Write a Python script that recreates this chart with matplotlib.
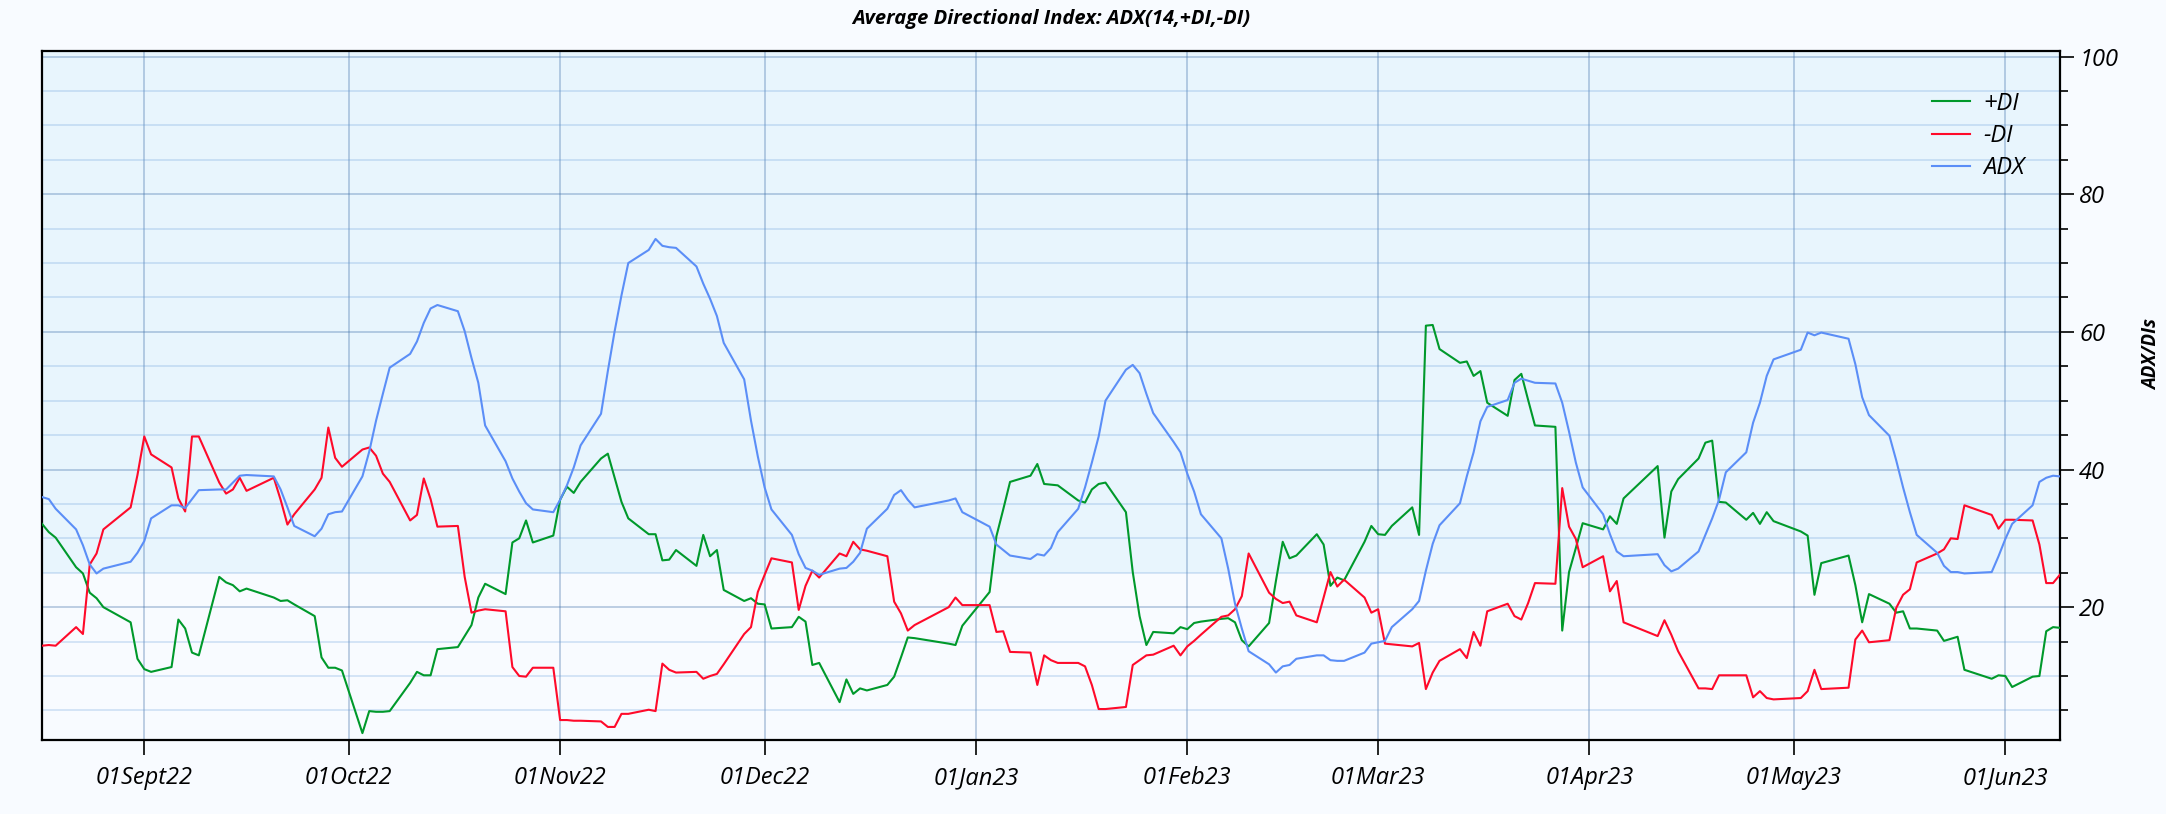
#!/usr/bin/env python3
"""
ADX(14,+DI,-DI) chart, Aug 2022 - Jun 2023 (LSE trading days).
"""

import pandas as pd
import matplotlib
matplotlib.use("Agg")
import matplotlib.pyplot as plt
from matplotlib.ticker import MultipleLocator

# --------------------------------------------------------------------------- #
# Data
# --------------------------------------------------------------------------- #
TRADING_DAYS = {
    "2022-08": [17, 18, 19, 22, 23, 24, 25, 26, 30, 31],
    "2022-09": [1, 2, 5, 6, 7, 8, 9, 12, 13, 14, 15, 16, 20, 21, 22, 23, 26, 27, 28, 29, 30],
    "2022-10": [3, 4, 5, 6, 7, 10, 11, 12, 13, 14, 17, 18, 19, 20, 21, 24, 25, 26, 27, 28, 31],
    "2022-11": [1, 2, 3, 4, 7, 8, 9, 10, 11, 14, 15, 16, 17, 18, 21, 22, 23, 24, 25, 28, 29, 30],
    "2022-12": [1, 2, 5, 6, 7, 8, 9, 12, 13, 14, 15, 16, 19, 20, 21, 22, 23, 28, 29, 30],
    "2023-01": [3, 4, 5, 6, 9, 10, 11, 12, 13, 16, 17, 18, 19, 20, 23, 24, 25, 26, 27, 30, 31],
    "2023-02": [1, 2, 3, 6, 7, 8, 9, 10, 13, 14, 15, 16, 17, 20, 21, 22, 23, 24, 27, 28],
    "2023-03": [1, 2, 3, 6, 7, 8, 9, 10, 13, 14, 15, 16, 17, 20, 21, 22, 23, 24, 27, 28, 29, 30, 31],
    "2023-04": [3, 4, 5, 6, 11, 12, 13, 14, 17, 18, 19, 20, 21, 24, 25, 26, 27, 28],
    "2023-05": [2, 3, 4, 5, 9, 10, 11, 12, 15, 16, 17, 18, 19, 22, 23, 24, 25, 26, 30, 31],
    "2023-06": [1, 2, 5, 6, 7, 8, 9],
}

PLUS_DI = [
    32.1, 30.9, 30.1, 25.8, 24.9, 22.1, 21.3, 20.0, 17.8, 12.5,
    11.0, 10.6, 11.3, 18.2, 16.9, 13.4, 13.0, 24.4, 23.6, 23.2, 22.3, 22.7, 21.4, 20.9, 21.0, 20.4, 18.7, 12.7, 11.2, 11.2, 10.8,
    1.7, 4.9, 4.8, 4.8, 4.9, 9.0, 10.6, 10.1, 10.1, 13.9, 14.2, 15.8, 17.4, 21.4, 23.4, 21.9, 29.4, 30.0, 32.6, 29.4, 30.4,
    35.6, 37.5, 36.6, 38.2, 41.6, 42.3, 38.8, 35.3, 32.9, 30.6, 30.6, 26.8, 26.9, 28.3, 26.0, 30.5, 27.4, 28.3, 22.5, 20.9, 21.3, 20.5,
    20.4, 16.9, 17.1, 18.6, 17.9, 11.6, 11.9, 6.2, 9.5, 7.4, 8.2, 7.9, 8.7, 9.9, 12.7, 15.6, 15.5, 14.7, 14.5, 17.3,
    22.2, 30.3, 34.2, 38.2, 39.1, 40.8, 37.9, 37.8, 37.7, 35.5, 35.2, 37.1, 37.9, 38.1, 33.8, 25.1, 18.7, 14.5, 16.4, 16.2, 17.1,
    16.8, 17.7, 17.9, 18.3, 18.4, 17.8, 15.2, 14.3, 17.7, 23.8, 29.5, 27.1, 27.5, 30.6, 29.1, 23.1, 24.3, 23.9, 29.5, 31.8,
    30.6, 30.5, 31.8, 34.5, 30.5, 60.9, 61.0, 57.5, 55.5, 55.7, 53.6, 54.3, 49.7, 47.8, 53.0, 53.9, 50.1, 46.4, 46.2, 16.6, 25.1, 28.6, 32.2,
    31.3, 33.2, 32.1, 35.8, 40.5, 30.1, 36.8, 38.6, 41.6, 43.9, 44.2, 35.3, 35.2, 32.7, 33.7, 32.1, 33.8, 32.5,
    31.0, 30.4, 21.8, 26.4, 27.5, 23.2, 17.8, 21.9, 20.5, 19.2, 19.4, 16.9, 16.9, 16.6, 15.1, 15.4, 15.7, 10.9, 9.6, 10.1,
    10.0, 8.4, 9.9, 10.0, 16.5, 17.1, 17.0,
]

MINUS_DI = [
    14.4, 14.5, 14.4, 17.1, 16.1, 26.2, 27.8, 31.3, 34.5, 39.2,
    44.8, 42.2, 40.3, 35.8, 33.9, 44.8, 44.8, 38.1, 36.5, 37.1, 38.8, 36.9, 38.8, 35.6, 32.0, 33.5, 37.1, 38.8, 46.1, 41.7, 40.4,
    42.9, 43.2, 42.0, 39.4, 38.2, 32.6, 33.4, 38.7, 35.7, 31.7, 31.8, 24.4, 19.2, 19.5, 19.7, 19.4, 11.3, 10.0, 9.9, 11.2, 11.2,
    3.6, 3.6, 3.5, 3.5, 3.4, 2.6, 2.6, 4.5, 4.5, 5.1, 4.9, 11.8, 10.9, 10.5, 10.6, 9.6, 10.0, 10.3, 11.7, 16.1, 17.1, 22.2,
    24.7, 27.1, 26.5, 19.6, 23.1, 25.3, 24.3, 27.8, 27.4, 29.5, 28.4, 28.2, 27.4, 20.8, 19.1, 16.6, 17.4, 20.0, 21.4, 20.3,
    20.3, 16.4, 16.5, 13.5, 13.4, 8.7, 13.0, 12.3, 11.9, 11.9, 11.4, 8.7, 5.2, 5.2, 5.5, 11.6, 12.3, 13.0, 13.1, 14.4, 13.0,
    14.3, 15.1, 16.0, 18.6, 18.8, 19.7, 21.6, 27.8, 22.1, 21.2, 20.6, 20.8, 18.8, 17.8, 21.4, 25.1, 23.0, 24.0, 21.4, 19.2,
    19.7, 14.7, 14.6, 14.3, 14.8, 8.1, 10.5, 12.2, 13.9, 12.6, 16.4, 14.4, 19.4, 20.5, 18.7, 18.2, 20.6, 23.5, 23.4, 37.3, 31.7, 29.9, 25.8,
    27.4, 22.3, 23.8, 17.8, 15.8, 18.1, 16.0, 13.6, 8.2, 8.2, 8.1, 10.1, 10.1, 10.1, 6.9, 7.8, 6.8, 6.6,
    6.8, 7.8, 10.9, 8.1, 8.3, 15.3, 16.6, 14.9, 15.2, 19.9, 21.8, 22.6, 26.5, 27.8, 28.4, 30.0, 29.9, 34.8, 33.4, 31.4,
    32.7, 32.7, 32.6, 29.1, 23.5, 23.5, 24.7,
]

ADX = [
    36.0, 35.7, 34.3, 31.3, 29.0, 26.2, 24.9, 25.6, 26.6, 27.9,
    29.6, 32.9, 34.8, 34.8, 34.4, 35.7, 37.0, 37.1, 37.1, 38.1, 39.1, 39.2, 39.0, 37.1, 34.5, 31.8, 30.3, 31.4, 33.5, 33.8, 33.9,
    39.0, 42.6, 47.1, 51.0, 54.8, 56.8, 58.6, 61.3, 63.4, 63.9, 63.0, 60.1, 56.2, 52.6, 46.4, 41.2, 38.7, 36.8, 35.1, 34.2, 33.8,
    35.6, 37.7, 40.3, 43.5, 48.1, 54.3, 60.1, 65.3, 70.0, 71.9, 73.5, 72.5, 72.3, 72.2, 69.5, 67.0, 64.8, 62.3, 58.4, 53.1, 47.1, 41.9,
    37.4, 34.2, 30.5, 27.7, 25.7, 25.3, 24.7, 25.6, 25.7, 26.6, 27.9, 31.4, 34.3, 36.3, 37.0, 35.6, 34.5, 35.5, 35.8, 33.8,
    31.7, 29.1, 28.3, 27.5, 27.0, 27.7, 27.5, 28.6, 30.9, 34.3, 37.4, 41.0, 44.8, 50.0, 54.5, 55.2, 54.0, 51.0, 48.2, 44.0, 42.5,
    39.4, 36.8, 33.5, 30.0, 25.6, 20.5, 16.9, 13.6, 11.7, 10.5, 11.4, 11.6, 12.5, 13.0, 13.0, 12.3, 12.2, 12.2, 13.4, 14.7,
    14.9, 15.1, 17.1, 19.7, 20.9, 25.3, 29.2, 31.9, 35.1, 39.0, 42.5, 47.0, 49.1, 50.1, 52.6, 53.2, 52.9, 52.6, 52.5, 49.7, 45.5, 41.0, 37.4,
    33.5, 30.6, 28.1, 27.4, 27.7, 26.1, 25.2, 25.6, 28.1, 30.5, 32.9, 35.6, 39.6, 42.5, 46.8, 49.7, 53.6, 56.0,
    57.4, 59.9, 59.5, 59.9, 59.0, 55.3, 50.5, 47.9, 44.9, 41.3, 37.4, 33.8, 30.5, 27.9, 26.0, 25.1, 25.1, 24.9, 25.1, 27.4,
    29.9, 32.1, 34.8, 38.2, 38.8, 39.1, 39.0,
]

MONTH_TICKS = ["2022-09-01", "2022-10-01", "2022-11-01", "2022-12-01", "2023-01-01",
               "2023-02-01", "2023-03-01", "2023-04-01", "2023-05-01", "2023-06-01"]
MONTH_LABELS = ["01Sept22", "01Oct22", "01Nov22", "01Dec22", "01Jan23",
                "01Feb23", "01Mar23", "01Apr23", "01May23", "01Jun23"]

TREND_LEVEL = 25          # shaded zone above this value

# --------------------------------------------------------------------------- #
# Style
# --------------------------------------------------------------------------- #
plt.rcParams["font.family"] = ["Open Sans", "DejaVu Sans"]
BG       = "#f8fbff"
ZONE_BG  = "#e8f5fd"
C_PLUS   = "#00992b"
C_MINUS  = "#ff0a2a"
C_ADX    = "#5b8ef7"
AX_RECT  = [0.0194, 0.0909, 0.9316, 0.8464]

dates = pd.to_datetime([f"{m}-{d:02d}" for m, days in TRADING_DAYS.items() for d in days])

fig = plt.figure(figsize=(21.66, 8.14), dpi=100, facecolor=BG)
ax = fig.add_axes(AX_RECT)
ax.set_facecolor(BG)

ymin, ymax = 0.7, 100.8
ax.axhspan(TREND_LEVEL, ymax, color=ZONE_BG, zorder=0, lw=0)

ax.plot(dates, PLUS_DI, color=C_PLUS, lw=1.5, label="+DI", zorder=3)
ax.plot(dates, MINUS_DI, color=C_MINUS, lw=1.5, label="-DI", zorder=3)
ax.plot(dates, ADX, color=C_ADX, lw=1.5, label="ADX", zorder=3)

ax.set_xlim(dates[0], dates[-1])
ax.set_ylim(ymin, ymax)

# y axis on the right
ax.yaxis.tick_right()
ax.yaxis.set_label_position("right")
ax.yaxis.set_major_locator(MultipleLocator(20))
ax.yaxis.set_minor_locator(MultipleLocator(5))
ax.tick_params(axis="y", which="major", length=10, width=1.2, pad=4, labelsize=17)
ax.tick_params(axis="y", which="minor", length=6, width=1.2)
for lab in ax.get_yticklabels():
    lab.set_fontstyle("italic")

ax.set_xticks(pd.to_datetime(MONTH_TICKS))
ax.set_xticklabels(MONTH_LABELS, fontsize=17, fontstyle="italic")
ax.tick_params(axis="x", which="major", length=11, width=1.2, pad=8)
ax.tick_params(axis="x", which="minor", length=0)

ax.set_ylabel("ADX/DIs", fontsize=13.5, fontweight="bold", fontstyle="italic")
ax.yaxis.set_label_coords(1.041, 0.56)

# grid
ax.grid(axis="y", which="minor", color="#5d97d8", alpha=0.25, lw=1.3, zorder=1)
ax.grid(axis="y", which="major", color="#3f6fa8", alpha=0.35, lw=1.3, zorder=1)
ax.grid(axis="x", which="major", color="#3f6fa8", alpha=0.35, lw=1.3, zorder=1)
ax.set_axisbelow(True)

for s in ax.spines.values():
    s.set_linewidth(1.6)
    s.set_color("black")

leg = ax.legend(loc="upper right", bbox_to_anchor=(0.993, 0.972), frameon=False,
                fontsize=17, handlelength=1.6, handletextpad=0.55, labelspacing=0.35)
for t in leg.get_texts():
    t.set_fontstyle("italic")

fig.text(AX_RECT[0] + AX_RECT[2] / 2, 0.977, "Average Directional Index: ADX(14,+DI,-DI)",
         ha="center", va="center", fontsize=14.5, fontweight="bold", fontstyle="italic")

fig.savefig("out.png", dpi=100, facecolor=BG)
